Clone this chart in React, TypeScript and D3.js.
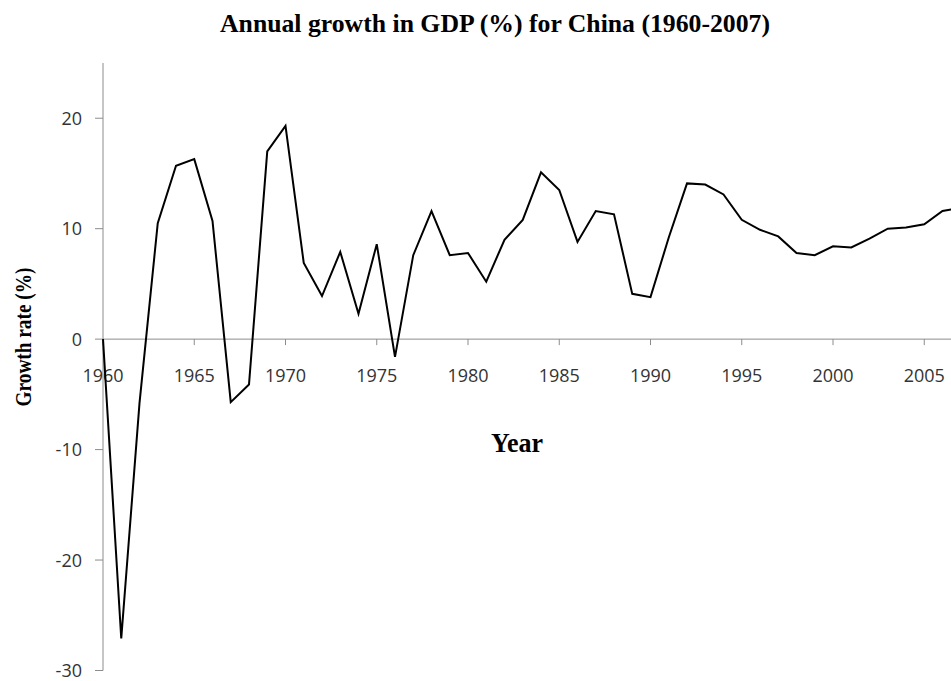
import * as d3 from "d3";
import { useEffect, useRef } from "react";

// data
const years = [
  1960, 1961, 1962, 1963, 1964, 1965, 1966, 1967, 1968, 1969,
  1970, 1971, 1972, 1973, 1974, 1975, 1976, 1977, 1978, 1979,
  1980, 1981, 1982, 1983, 1984, 1985, 1986, 1987, 1988, 1989,
  1990, 1991, 1992, 1993, 1994, 1995, 1996, 1997, 1998, 1999,
  2000, 2001, 2002, 2003, 2004, 2005, 2006, 2007,
];
const growth = [
  0, -27.1, -5.8, 10.5, 15.7, 16.3, 10.7, -5.7, -4.1, 17.0,
  19.3, 6.9, 3.9, 7.9, 2.3, 8.6, -1.6, 7.6, 11.6, 7.6,
  7.8, 5.2, 9.0, 10.8, 15.1, 13.5, 8.8, 11.6, 11.3, 4.1,
  3.8, 9.2, 14.1, 14.0, 13.1, 10.8, 9.9, 9.3, 7.8, 7.6,
  8.4, 8.3, 9.1, 10.0, 10.1, 10.4, 11.6, 11.9,
];
const xTicks = [1960, 1965, 1970, 1975, 1980, 1985, 1990, 1995, 2000, 2005];
const yTicks = [-30, -20, -10, 0, 10, 20];

const App = () => {
  const ref = useRef(null);

  useEffect(() => {
    const svg = d3.select(ref.current);
    svg.selectAll("*").remove();

    const width = 951,
      height = 681;

    const x = d3.scaleLinear().domain([1960, 2006]).range([103, 942.5]);
    const y = d3.scaleLinear().domain([-30, 25]).range([670.5, 63]);

    svg
      .append("rect")
      .attr("width", width)
      .attr("height", height)
      .attr("fill", "#ffffff");

    const tickFont = "'Open Sans', 'DejaVu Sans', sans-serif";
    const axisColor = "#8c8c8c";

    // y axis
    svg
      .append("line")
      .attr("x1", x(1960))
      .attr("x2", x(1960))
      .attr("y1", y(25))
      .attr("y2", y(-30))
      .attr("stroke", axisColor)
      .attr("stroke-width", 1);
    svg
      .append("g")
      .selectAll("line")
      .data(yTicks)
      .join("line")
      .attr("x1", x(1960) - 8)
      .attr("x2", x(1960))
      .attr("y1", (d) => y(d))
      .attr("y2", (d) => y(d))
      .attr("stroke", axisColor);
    svg
      .append("g")
      .selectAll("text")
      .data(yTicks)
      .join("text")
      .attr("x", 82)
      .attr("y", (d) => y(d))
      .attr("dy", "0.36em")
      .attr("text-anchor", "end")
      .attr("font-family", tickFont)
      .attr("font-size", 18)
      .attr("fill", "#333")
      .text((d) => d);

    // x axis at zero
    svg
      .append("line")
      .attr("x1", x(1960))
      .attr("x2", width)
      .attr("y1", y(0))
      .attr("y2", y(0))
      .attr("stroke", axisColor)
      .attr("stroke-width", 1);
    svg
      .append("g")
      .selectAll("line")
      .data(xTicks)
      .join("line")
      .attr("x1", (d) => x(d))
      .attr("x2", (d) => x(d))
      .attr("y1", y(0))
      .attr("y2", y(0) + 6)
      .attr("stroke", axisColor);
    svg
      .append("g")
      .selectAll("text")
      .data(xTicks)
      .join("text")
      .attr("x", (d) => x(d))
      .attr("y", 381.5)
      .attr("text-anchor", "middle")
      .attr("font-family", tickFont)
      .attr("font-size", 18)
      .attr("fill", "#333")
      .text((d) => d);

    // the series
    const line = d3
      .line<number>()
      .x((d, i) => x(years[i]))
      .y((d) => y(d));
    svg
      .append("path")
      .datum(growth)
      .attr("d", line)
      .attr("fill", "none")
      .attr("stroke", "#000")
      .attr("stroke-width", 2)
      .attr("stroke-linejoin", "miter");

    // titles
    const serif = "'Liberation Serif', 'Times New Roman', serif";
    svg
      .append("text")
      .attr("x", 220)
      .attr("y", 31.5)
      .attr("font-family", serif)
      .attr("font-weight", "bold")
      .attr("font-size", 26)
      .attr("textLength", 550)
      .attr("lengthAdjust", "spacingAndGlyphs")
      .text("Annual growth in GDP (%) for China (1960-2007)");

    svg
      .append("text")
      .attr("x", 517)
      .attr("y", 452)
      .attr("text-anchor", "middle")
      .attr("font-family", serif)
      .attr("font-weight", "bold")
      .attr("font-size", 27)
      .attr("textLength", 52)
      .attr("lengthAdjust", "spacingAndGlyphs")
      .text("Year");

    svg
      .append("text")
      .attr("transform", "translate(31,337) rotate(-90)")
      .attr("text-anchor", "middle")
      .attr("font-family", serif)
      .attr("font-weight", "bold")
      .attr("font-size", 24)
      .attr("textLength", 139)
      .attr("lengthAdjust", "spacingAndGlyphs")
      .text("Growth rate (%)");
  }, []);

  return (
    <svg
      ref={ref}
      width={951}
      height={681}
      style={{ position: "absolute", left: 0, top: 0 }}
    />
  );
};

export default App;
